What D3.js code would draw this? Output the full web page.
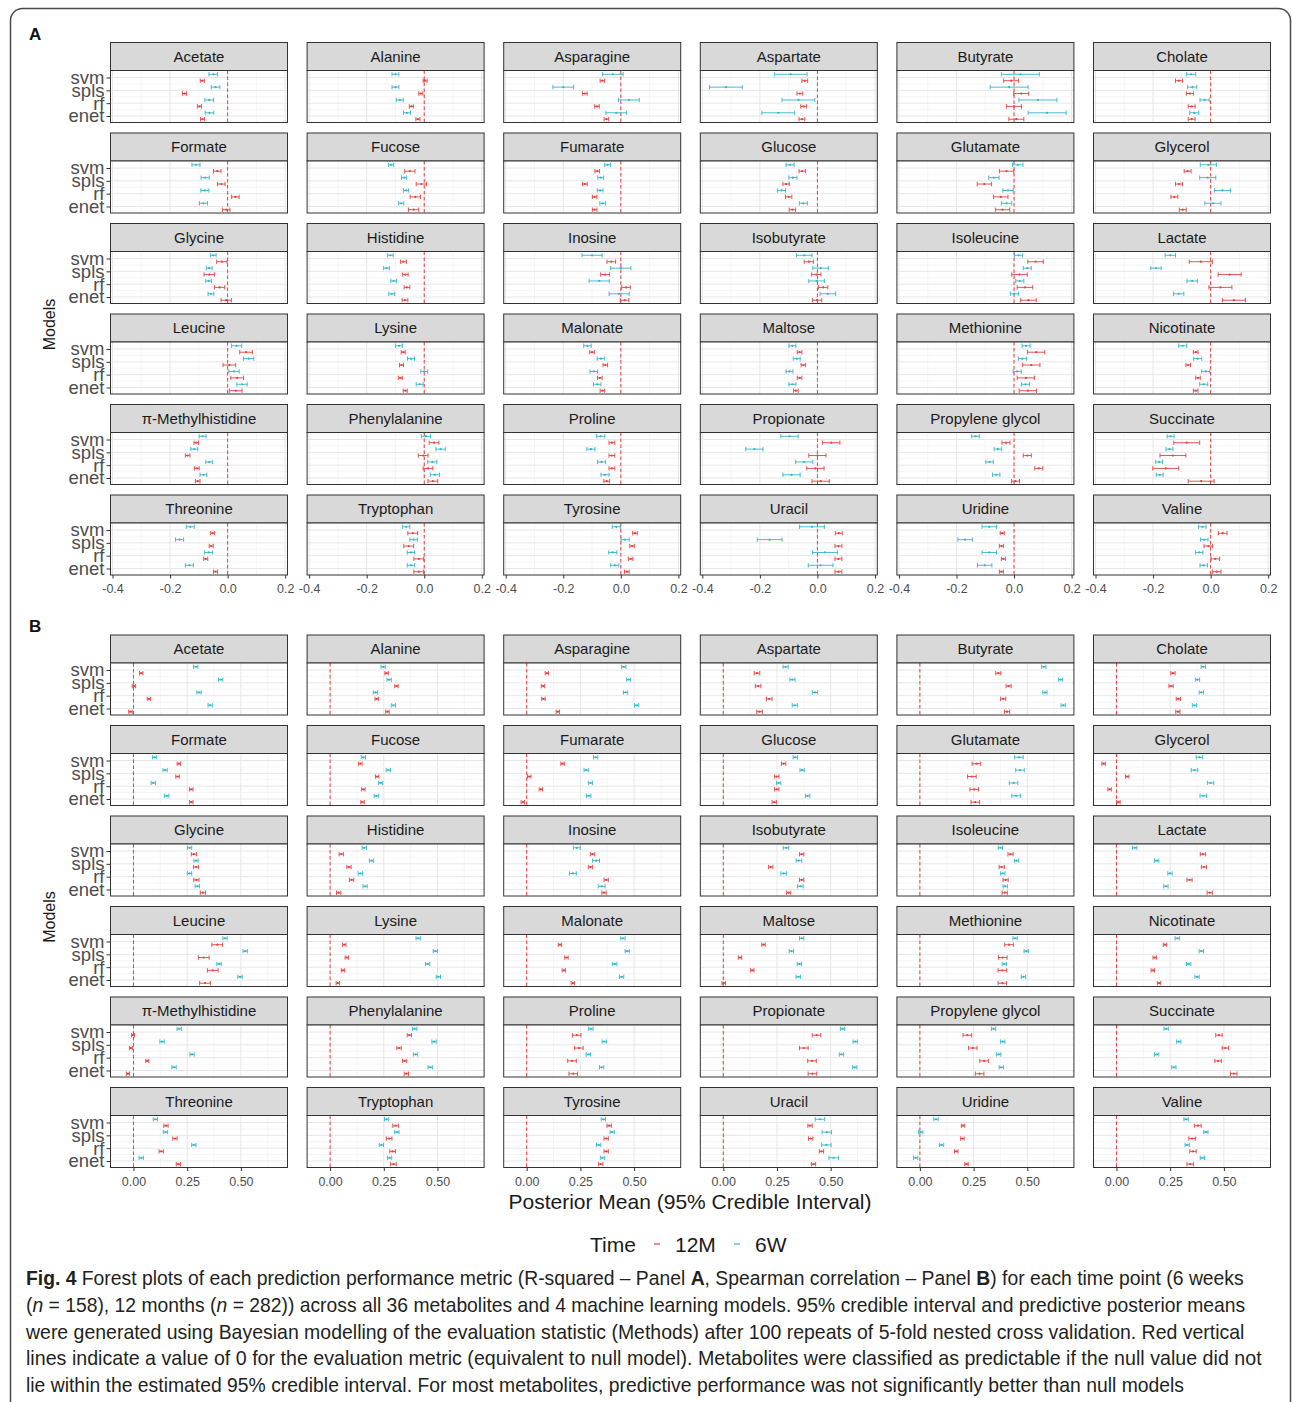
<!DOCTYPE html>
<html>
<head>
<meta charset="utf-8">
<script src="https://cdn.jsdelivr.net/npm/d3@7"></script>
<style>
  body { margin: 0; background: #fff; }
  text { font-family: "Liberation Sans", Arial, sans-serif; }
</style>
</head>
<body>
<div id="chart"></div>
<script>
const metabolites = ["Acetate", "Alanine", "Asparagine", "Aspartate", "Butyrate", "Cholate",
    "Formate", "Fucose", "Fumarate", "Glucose", "Glutamate", "Glycerol",
    "Glycine", "Histidine", "Inosine", "Isobutyrate", "Isoleucine", "Lactate",
    "Leucine", "Lysine", "Malonate", "Maltose", "Methionine", "Nicotinate",
    "π-Methylhistidine", "Phenylalanine", "Proline", "Propionate", "Propylene glycol", "Succinate",
    "Threonine", "Tryptophan", "Tyrosine", "Uracil", "Uridine", "Valine"];
const models = ["svm", "spls", "rf", "enet"];
const timeLevels = ["12M", "6W"];
const rsqTicks = [-0.4, -0.2, 0.0, 0.2];
const rhoTicks = [0, 0.25, 0.5];

// Panel A: R-squared, posterior means per model (svm, spls, rf, enet)
const rsq6W = [
    [-0.05, -0.042, -0.064, -0.063], [-0.10, -0.10, -0.085, -0.06], [-0.028, -0.20, 0.028, -0.016],
    [-0.093, -0.318, -0.066, -0.136], [0.022, -0.017, 0.083, 0.115], [-0.068, -0.064, -0.021, -0.057],
    [-0.11, -0.078, -0.079, -0.084], [-0.115, -0.07, -0.063, -0.08], [-0.046, -0.07, -0.072, -0.063],
    [-0.095, -0.085, -0.125, -0.049], [0.013, -0.07, -0.021, -0.026], [-0.008, -0.01, 0.041, 0.008],
    [-0.05, -0.064, -0.066, -0.058], [-0.118, -0.131, -0.106, -0.113], [-0.10, 0.0, -0.075, -0.006],
    [-0.046, 0.011, -0.003, 0.036], [0.016, 0.046, 0.02, 0.001], [-0.14, -0.19, -0.064, -0.111],
    [0.031, 0.073, 0.022, 0.05], [-0.088, -0.046, 0.0, -0.016], [-0.116, -0.069, -0.094, -0.082],
    [-0.087, -0.072, -0.097, -0.087], [0.042, 0.029, 0.011, 0.04], [-0.097, -0.045, -0.017, -0.024],
    [-0.087, -0.116, -0.064, -0.084], [0.006, 0.057, 0.028, 0.037], [-0.07, -0.104, -0.067, -0.055],
    [-0.097, -0.219, -0.046, -0.09], [-0.134, -0.056, -0.085, -0.062], [-0.139, -0.143, -0.179, -0.177],
    [-0.13, -0.167, -0.066, -0.133], [-0.063, -0.037, -0.046, -0.046], [-0.016, 0.015, -0.028, -0.021],
    [-0.019, -0.166, 0.026, 0.011], [-0.086, -0.17, -0.086, -0.102], [-0.029, -0.022, -0.04, -0.024]
];
const rsq6WHalf = [0.015, 0.012, 0.036, 0.057, 0.066, 0.016, 0.014, 0.009, 0.01, 0.014, 0.018, 0.028,
    0.01, 0.01, 0.035, 0.027, 0.014, 0.018, 0.018, 0.012, 0.013, 0.012, 0.014, 0.014,
    0.012, 0.016, 0.014, 0.03, 0.013, 0.012, 0.014, 0.013, 0.014, 0.043, 0.025, 0.013];
const rsq12M = [
    [-0.088, -0.15, -0.098, -0.087], [0.003, -0.012, -0.045, -0.022], [-0.064, -0.125, -0.083, -0.05],
    [-0.044, -0.061, -0.048, -0.054], [-0.01, 0.025, 0.0, 0.008], [-0.11, -0.072, -0.066, -0.066],
    [-0.036, -0.022, 0.027, -0.005], [-0.05, -0.01, -0.031, -0.037], [-0.082, -0.125, -0.091, -0.091],
    [-0.053, -0.109, -0.10, -0.087], [-0.026, -0.103, -0.046, -0.04], [-0.08, -0.11, -0.126, -0.097],
    [-0.02, -0.064, -0.028, -0.005], [-0.072, -0.066, -0.06, -0.067], [-0.033, -0.055, 0.018, 0.013],
    [-0.03, -0.004, 0.02, -0.001], [0.075, 0.019, 0.038, 0.05], [-0.034, 0.066, 0.034, 0.081],
    [0.064, 0.006, 0.033, 0.028], [-0.073, -0.079, -0.083, -0.066], [-0.10, -0.054, -0.073, -0.064],
    [-0.062, -0.049, -0.062, -0.075], [0.077, 0.06, 0.041, 0.048], [-0.052, -0.078, -0.044, -0.052],
    [-0.109, -0.139, -0.107, -0.104], [0.034, -0.004, 0.013, 0.03], [-0.031, -0.031, -0.031, -0.049],
    [0.048, 0.0, -0.007, 0.011], [-0.028, 0.046, 0.086, 0.005], [-0.083, -0.131, -0.156, -0.033],
    [-0.052, -0.057, -0.076, -0.042], [-0.04, -0.054, -0.019, -0.019], [0.049, 0.039, 0.034, 0.021],
    [0.074, 0.073, 0.073, 0.073], [-0.041, -0.044, -0.037, -0.044], [0.042, -0.008, 0.016, 0.021]
];
const rsq12MHalf = [0.007, 0.007, 0.008, 0.01, 0.026, 0.012, 0.013, 0.018, 0.008, 0.011, 0.025, 0.012,
    0.018, 0.01, 0.015, 0.016, 0.027, 0.04, 0.022, 0.007, 0.008, 0.008, 0.03, 0.008,
    0.008, 0.017, 0.01, 0.03, 0.014, 0.045, 0.007, 0.017, 0.008, 0.012, 0.007, 0.015];

// Panel B: Spearman correlation
const rho6W = [
    [0.29, 0.406, 0.305, 0.357], [0.247, 0.275, 0.211, 0.295], [0.452, 0.474, 0.46, 0.512],
    [0.29, 0.322, 0.427, 0.333], [0.577, 0.655, 0.582, 0.667], [0.404, 0.377, 0.395, 0.363],
    [0.098, 0.147, 0.092, 0.155], [0.155, 0.271, 0.235, 0.215], [0.321, 0.277, 0.297, 0.289],
    [0.335, 0.367, 0.258, 0.393], [0.461, 0.466, 0.436, 0.448], [0.386, 0.363, 0.438, 0.404],
    [0.261, 0.291, 0.261, 0.297], [0.159, 0.193, 0.141, 0.163], [0.233, 0.323, 0.215, 0.349],
    [0.292, 0.352, 0.281, 0.359], [0.375, 0.45, 0.386, 0.397], [0.085, 0.187, 0.249, 0.23],
    [0.426, 0.52, 0.398, 0.496], [0.41, 0.49, 0.454, 0.504], [0.448, 0.468, 0.41, 0.442],
    [0.365, 0.317, 0.354, 0.349], [0.443, 0.495, 0.393, 0.482], [0.283, 0.395, 0.336, 0.375],
    [0.213, 0.133, 0.273, 0.189], [0.394, 0.484, 0.398, 0.466], [0.299, 0.361, 0.287, 0.349],
    [0.555, 0.614, 0.55, 0.612], [0.343, 0.386, 0.367, 0.379], [0.231, 0.29, 0.187, 0.267],
    [0.102, 0.149, 0.281, 0.036], [0.263, 0.311, 0.239, 0.277], [0.357, 0.398, 0.335, 0.353],
    [0.45, 0.482, 0.48, 0.514], [0.075, 0.004, 0.101, -0.02], [0.324, 0.416, 0.329, 0.4]
];
const rho6WHalf = [0.01, 0.01, 0.01, 0.012, 0.01, 0.01, 0.01, 0.01, 0.01, 0.01, 0.02, 0.015,
    0.01, 0.01, 0.016, 0.013, 0.01, 0.01, 0.01, 0.01, 0.01, 0.01, 0.01, 0.01,
    0.01, 0.01, 0.01, 0.01, 0.01, 0.01, 0.01, 0.01, 0.01, 0.022, 0.01, 0.01];
const rho12M = [
    [0.036, 0.002, 0.072, -0.014], [0.263, 0.309, 0.217, 0.267], [0.094, 0.076, 0.078, 0.145],
    [0.157, 0.162, 0.214, 0.169], [0.365, 0.413, 0.388, 0.406], [0.263, 0.254, 0.288, 0.286],
    [0.211, 0.205, 0.269, 0.269], [0.141, 0.219, 0.155, 0.151], [0.167, 0.012, 0.066, -0.018],
    [0.281, 0.249, 0.249, 0.237], [0.263, 0.242, 0.253, 0.258], [-0.06, 0.05, -0.032, 0.009],
    [0.281, 0.291, 0.293, 0.323], [0.052, 0.088, 0.1, 0.04], [0.307, 0.297, 0.37, 0.36],
    [0.365, 0.221, 0.365, 0.304], [0.422, 0.381, 0.399, 0.395], [0.402, 0.407, 0.34, 0.434],
    [0.39, 0.327, 0.369, 0.333], [0.066, 0.078, 0.06, 0.036], [0.155, 0.185, 0.173, 0.215],
    [0.187, 0.078, 0.135, 0.002], [0.415, 0.386, 0.384, 0.384], [0.226, 0.178, 0.169, 0.198],
    [-0.002, -0.012, 0.064, -0.026], [0.369, 0.321, 0.347, 0.355], [0.233, 0.243, 0.211, 0.217],
    [0.434, 0.375, 0.413, 0.415], [0.221, 0.246, 0.299, 0.278], [0.477, 0.507, 0.473, 0.546],
    [0.151, 0.193, 0.129, 0.209], [0.305, 0.275, 0.291, 0.295], [0.384, 0.37, 0.37, 0.345],
    [0.404, 0.407, 0.457, 0.42], [0.201, 0.198, 0.169, 0.217], [0.379, 0.352, 0.356, 0.343]
];
const rho12MHalf = [0.008, 0.008, 0.008, 0.013, 0.012, 0.01, 0.008, 0.008, 0.008, 0.01, 0.02, 0.008,
    0.012, 0.01, 0.01, 0.01, 0.012, 0.012, 0.025, 0.008, 0.008, 0.008, 0.02, 0.008,
    0.007, 0.01, 0.02, 0.02, 0.02, 0.015, 0.01, 0.013, 0.01, 0.01, 0.008, 0.015];

const width = 1292;
const height = 1402;
const facetW = 177, stripH = 28, panelH = 52;
const colPitch = 196.6, rowPitch = 90.5, left = 110.5;
const red = "#e5403f", blue = "#33b5c9";
const timeColor = { "12M": red, "6W": blue };

const svg = d3.select("#chart")
    .append("svg")
    .attr("width", width)
    .attr("height", height);

// outer frame of the figure
svg.append("rect")
    .attr("x", 10.5).attr("y", 8.5)
    .attr("width", 1280).attr("height", 1440)
    .attr("rx", 12)
    .attr("fill", "#fff")
    .attr("stroke", "#4a4a4a")
    .attr("stroke-width", 1.5);

const y = d3.scalePoint().domain(models).range([7, 45.5]);
const dodge = y.step() / 4;

function drawPanel(top, letter, xDomain, ticks, fmt, m12, h12, m6, h6) {
    const x = d3.scaleLinear().domain(xDomain).range([0, facetW]);
    const step = ticks[1] - ticks[0];
    const minor = d3.range(ticks[0] - step / 2, xDomain[1], step)
        .filter(v => v > xDomain[0] && v < xDomain[1]);
    const majorH = models.map(m => y(m));
    const minorH = d3.pairs(majorH).map(([a, b]) => (a + b) / 2);

    svg.append("text")
        .attr("x", 29).attr("y", top - 3)
        .attr("font-size", 17).attr("font-weight", "bold")
        .attr("fill", "#111")
        .text(letter);

    svg.append("text")
        .attr("transform", `translate(55,${top + 282}) rotate(-90)`)
        .attr("text-anchor", "middle")
        .attr("font-size", 16)
        .attr("fill", "#1a1a1a")
        .text("Models");

    metabolites.forEach((name, k) => {
        const col = k % 6, row = Math.floor(k / 6);
        const g = svg.append("g")
            .attr("transform", `translate(${left + col * colPitch},${top + row * rowPitch})`);

        // strip
        g.append("rect")
            .attr("width", facetW).attr("height", stripH)
            .attr("fill", "#d9d9d9").attr("stroke", "#333").attr("stroke-width", 1);
        g.append("text")
            .attr("x", facetW / 2).attr("y", stripH / 2).attr("dy", "0.36em")
            .attr("text-anchor", "middle")
            .attr("font-size", 15).attr("fill", "#1a1a1a")
            .text(name);

        const p = g.append("g").attr("transform", `translate(0,${stripH})`);
        p.append("rect").attr("width", facetW).attr("height", panelH).attr("fill", "#fff");

        // grid
        p.selectAll(".vminor").data(minor).join("line")
            .attr("x1", d => x(d)).attr("x2", d => x(d))
            .attr("y1", 0).attr("y2", panelH)
            .attr("stroke", "#f0f0f0").attr("stroke-width", 0.6);
        p.selectAll(".vmajor").data(ticks).join("line")
            .attr("x1", d => x(d)).attr("x2", d => x(d))
            .attr("y1", 0).attr("y2", panelH)
            .attr("stroke", "#e6e6e6").attr("stroke-width", 1);
        p.selectAll(".hminor").data(minorH).join("line")
            .attr("x1", 0).attr("x2", facetW)
            .attr("y1", d => d).attr("y2", d => d)
            .attr("stroke", "#f0f0f0").attr("stroke-width", 0.6);
        p.selectAll(".hmajor").data(majorH).join("line")
            .attr("x1", 0).attr("x2", facetW)
            .attr("y1", d => d).attr("y2", d => d)
            .attr("stroke", "#e6e6e6").attr("stroke-width", 1);

        // null line
        p.append("line")
            .attr("x1", x(0)).attr("x2", x(0))
            .attr("y1", 0).attr("y2", panelH)
            .attr("stroke", red).attr("stroke-width", 1)
            .attr("stroke-dasharray", "3.5,2.5");

        const bars = [];
        models.forEach((m, i) => {
            bars.push({ model: m, time: "6W", mean: m6[k][i], lo: m6[k][i] - h6[k], hi: m6[k][i] + h6[k], yy: y(m) - dodge });
            bars.push({ model: m, time: "12M", mean: m12[k][i], lo: m12[k][i] - h12[k], hi: m12[k][i] + h12[k], yy: y(m) + dodge });
        });

        const bar = p.selectAll(".bar").data(bars).join("g")
            .attr("stroke", d => timeColor[d.time])
            .attr("fill", d => timeColor[d.time]);
        bar.append("line")
            .attr("x1", d => x(d.lo)).attr("x2", d => x(d.hi))
            .attr("y1", d => d.yy).attr("y2", d => d.yy)
            .attr("stroke-width", 0.9);
        bar.append("line")
            .attr("x1", d => x(d.lo)).attr("x2", d => x(d.lo))
            .attr("y1", d => d.yy - 2.2).attr("y2", d => d.yy + 2.2)
            .attr("stroke-width", 0.9);
        bar.append("line")
            .attr("x1", d => x(d.hi)).attr("x2", d => x(d.hi))
            .attr("y1", d => d.yy - 2.2).attr("y2", d => d.yy + 2.2)
            .attr("stroke-width", 0.9);
        bar.append("circle")
            .attr("cx", d => x(d.mean)).attr("cy", d => d.yy)
            .attr("r", 1.1).attr("stroke", "none");

        // panel border
        p.append("rect")
            .attr("width", facetW).attr("height", panelH)
            .attr("fill", "none").attr("stroke", "#333").attr("stroke-width", 1);

        if (col === 0) {
            const ax = p.append("g").call(d3.axisLeft(y).tickSize(4).tickPadding(2));
            ax.select(".domain").remove();
            ax.selectAll("line").attr("stroke", "#333");
            ax.selectAll("text")
                .attr("font-size", 18.5)
                .attr("fill", "#4d4d4d");
            ax.attr("font-family", null);
        }
        if (row === 5) {
            const ax = p.append("g")
                .attr("transform", `translate(0,${panelH})`)
                .call(d3.axisBottom(x).tickValues(ticks).tickFormat(fmt).tickSize(3.5).tickPadding(6));
            ax.select(".domain").remove();
            ax.selectAll("line").attr("stroke", "#333");
            ax.selectAll("text")
                .attr("font-size", 12.5).attr("fill", "#4d4d4d");
            ax.attr("font-family", null);
        }
    });
}

drawPanel(42.5, "A", [-0.407, 0.208], rsqTicks, d => d.toFixed(1), rsq12M, rsq12MHalf, rsq6W, rsq6WHalf);
drawPanel(635, "B", [-0.107, 0.717], rhoTicks, d => d.toFixed(2), rho12M, rho12MHalf, rho6W, rho6WHalf);

// axis title
svg.append("text")
    .attr("x", 690).attr("y", 1209)
    .attr("text-anchor", "middle")
    .attr("font-size", 21).attr("fill", "#1a1a1a")
    .text("Posterior Mean (95% Credible Interval)");

// legend
const legend = svg.append("g").attr("transform", "translate(590,1244)");
legend.append("text")
    .attr("x", 0).attr("dy", "0.36em")
    .attr("font-size", 21).attr("fill", "#1a1a1a")
    .text("Time");
timeLevels.forEach((t, i) => {
    const lx = 64 + i * 80;
    legend.append("line")
        .attr("x1", lx).attr("x2", lx + 6)
        .attr("y1", 0).attr("y2", 0)
        .attr("stroke", timeColor[t]).attr("stroke-width", 1.2);
    legend.append("text")
        .attr("x", lx + 21).attr("dy", "0.36em")
        .attr("font-size", 21).attr("fill", "#1a1a1a")
        .text(t);
});

// caption (each line squeezed horizontally to the width it has in the figure)
const caption = [
    [["Fig. 4", "b"], [" Forest plots of each prediction performance metric (R-squared – Panel "], ["A", "b"], [", Spearman correlation – Panel "], ["B", "b"], [") for each time point (6 weeks"]],
    [["("], ["n", "i"], [" = 158), 12 months ("], ["n", "i"], [" = 282)) across all 36 metabolites and 4 machine learning models. 95% credible interval and predictive posterior means"]],
    [["were generated using Bayesian modelling of the evaluation statistic (Methods) after 100 repeats of 5-fold nested cross validation. Red vertical"]],
    [["lines indicate a value of 0 for the evaluation metric (equivalent to null model). Metabolites were classified as predictable if the null value did not"]],
    [["lie within the estimated 95% credible interval. For most metabolites, predictive performance was not significantly better than null models"]]
];
const captionLen = [1219, 1220, 1219, 1236, 1159];

caption.forEach((parts, i) => {
    const t = svg.append("text")
        .attr("x", 0).attr("y", 0)
        .attr("font-size", 20.5)
        .attr("fill", "#231f20");
    parts.forEach(([s, f]) => {
        t.append("tspan")
            .attr("font-weight", f === "b" ? "bold" : null)
            .attr("font-style", f === "i" ? "italic" : null)
            .text(s);
    });
    const natural = t.node().getComputedTextLength();
    const sx = natural > 0 ? captionLen[i] / natural : 1;
    t.attr("transform", `translate(26,${1285 + i * 26.8}) scale(${sx},1)`);
});
</script>
</body>
</html>
